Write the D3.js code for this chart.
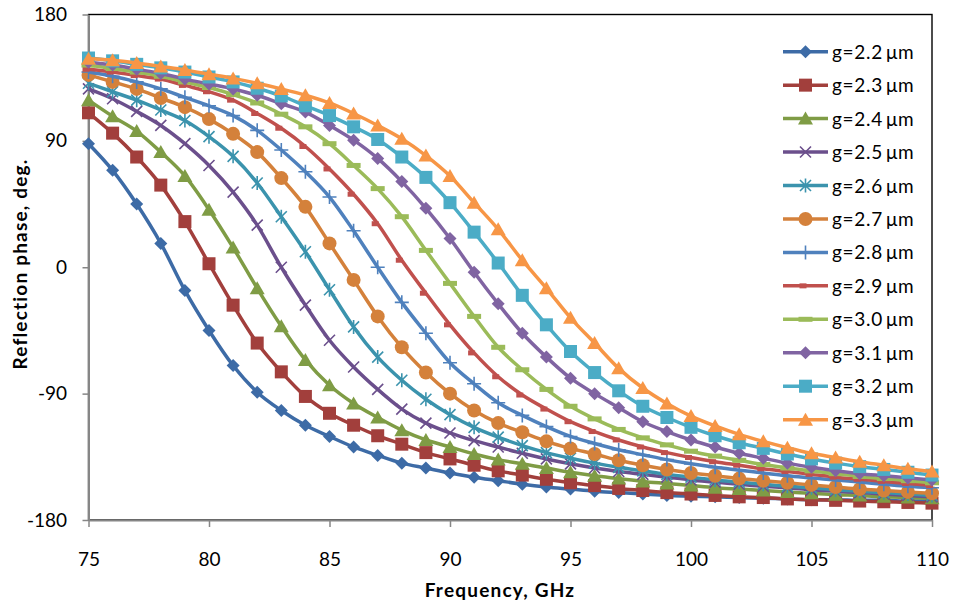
<!DOCTYPE html>
<html><head><meta charset="utf-8">
<script src="https://cdn.jsdelivr.net/npm/d3@7"></script>
<style>
html,body{margin:0;padding:0;background:#fff;}
svg{display:block;font-family:Lato,"Open Sans",sans-serif;}
</style></head>
<body><svg id="chart" width="959" height="607"></svg>
<script>
// ---- data ----
const freq = [75,76,77,78,79,80,81,82,83,84,85,86,87,88,89,90,91,92,93,94,95,96,97,98,99,100,101,102,103,104,105,106,107,108,109,110];
const seriesNames = ["g=2.2\u2009\u03bcm","g=2.3\u2009\u03bcm","g=2.4\u2009\u03bcm","g=2.5\u2009\u03bcm","g=2.6\u2009\u03bcm","g=2.7\u2009\u03bcm","g=2.8\u2009\u03bcm","g=2.9\u2009\u03bcm","g=3.0\u2009\u03bcm","g=3.1\u2009\u03bcm","g=3.2\u2009\u03bcm","g=3.3\u2009\u03bcm"];
const g22 = [88,69,45,17,-16.5,-45,-70,-89,-102,-112.5,-120.5,-128,-134,-139.5,-143,-146.5,-149.5,-152,-154.5,-156.5,-158,-159.5,-160.5,-161.5,-162.5,-163,-163.5,-164,-164.5,-165,-165.5,-165.5,-166,-166,-166.5,-166.5];
const g23 = [110,95.5,78.5,58.5,32.5,2.5,-27,-54,-74.5,-92,-104,-112.5,-120,-126,-132,-136.5,-141,-145,-148,-151,-153.5,-155.5,-157.5,-159,-160.5,-161.5,-162.5,-163.5,-164,-165,-165.5,-166,-166.5,-167,-167.5,-168];
const g24 = [119,107.5,97,82,65,41,14,-15,-42,-66,-84,-97,-107,-116,-123,-128,-133,-137,-140,-143,-146,-148.5,-150.5,-152.5,-154,-155.5,-157,-158,-159,-160,-161,-162,-162.5,-163.5,-164,-164.5];
const g25 = [127,120,111,101,88,72.5,53.5,30,0,-27,-52,-71,-87,-101,-111,-118,-123.5,-128,-132.5,-136.5,-140,-143,-145.5,-147.5,-149.5,-151.5,-153,-154.5,-156,-157,-158.5,-159.5,-160.5,-161.5,-162.5,-163.5];
const g26 = [131,125,119,112,104.5,93,79,60,36,11,-16,-42.5,-64,-80.5,-94,-105,-114,-121,-127,-132,-136,-139.5,-142.5,-145,-147.5,-149.5,-151.5,-153,-154.5,-156,-157,-158.5,-159.5,-160.5,-161.5,-162.5];
const g27 = [137,132,127,120.5,114,105.5,95,82,63.5,43,17,-9,-35,-57,-75,-90,-102,-111,-117.5,-124,-129,-133,-137.5,-141,-144,-146.5,-148.5,-150.5,-152,-153.5,-155,-156.5,-158,-159,-160,-161];
const g28 = [139,136,132,127,121,115,108,97.5,83.5,68,50,26,0,-25,-47,-68,-83,-96.5,-105.5,-113.5,-120.5,-125.5,-130,-133.5,-137,-140,-142.5,-144.5,-146.5,-148.5,-150,-151.5,-153,-154.5,-156,-157];
const g29 = [141,139,136.5,134,129.5,125,119,109.5,99,86,70,52,31,5,-18.5,-41,-61,-78,-91,-101,-110,-117,-123,-128,-132,-135.5,-138.5,-141,-143.5,-145.5,-147.5,-149.5,-151,-152.5,-154,-155.5];
const g30 = [144,141.5,139,136,132,128,123,117,109,100,88,72.5,56,36,12,-11.5,-35,-57,-73,-87,-99,-108,-115.5,-121.5,-126.5,-131,-134.5,-137.5,-140.5,-143,-145,-147,-149,-150.5,-152,-153.5];
const g31 = [146,144,141,138,134,130.5,127,122.5,116.5,110.5,101,90.5,77.5,61,42,20.5,-3.5,-26,-47,-64,-79,-90,-100,-110,-117,-123,-128,-132.5,-136,-139.5,-142.5,-145,-147,-148.5,-150,-151.5];
const g32 = [149,147,144.5,142,139,135.5,132,127.5,122,115,108,100,91,78.5,64,46,25,3,-20,-41,-60,-75,-88,-99,-107,-114,-120,-125,-129,-133,-136.5,-139.5,-142,-144,-146,-148];
const g33 = [148.5,147.5,145.5,143,140.5,137.5,134.5,131,127,122.5,117,109.5,101,91.5,79.5,65,46,27,5,-15,-36,-54,-72,-86,-97,-106,-113,-119,-124,-128.5,-132.5,-135.5,-138.5,-141,-143.5,-145.5];
const xTicks = [75,80,85,90,95,100,105,110];
const yTicks = [-180,-90,0,90,180];

// ---- styles ----
const colors = ["#3d6ba6","#a23f3c","#7f9c45","#6b4f8c","#3b93ad","#d4813b","#4f81bd","#c0504d","#9bbb59","#8064a2","#4bacc6","#f79646"];
const markers = ["diamond","square","triangle","x","star","circle","plus","shortbar","longbar","diamond","square","triangle"];
const allSeries = [g22,g23,g24,g25,g26,g27,g28,g29,g30,g31,g32,g33];

const svg = d3.select("#chart");
const L=88.5, R=932, T=14.5, B=520;
const x = d3.scaleLinear().domain([75,110]).range([L,R]);
const y = d3.scaleLinear().domain([-180,180]).range([B,T]);

function drawMarker(g, type, color){
  if(type==="diamond") g.append("path").attr("d","M0,-6.5L6.5,0L0,6.5L-6.5,0Z").attr("fill",color);
  else if(type==="square") g.append("rect").attr("x",-6.5).attr("y",-6.5).attr("width",13).attr("height",13).attr("fill",color);
  else if(type==="triangle") g.append("path").attr("d","M0,-7L7.5,6L-7.5,6Z").attr("fill",color);
  else if(type==="circle") g.append("circle").attr("r",7).attr("fill",color);
  else if(type==="x") g.append("path").attr("d","M-5.5,-5.5L5.5,5.5M-5.5,5.5L5.5,-5.5").attr("stroke",color).attr("stroke-width",1.6).attr("fill","none");
  else if(type==="star") g.append("path").attr("d","M-5.5,-5.5L5.5,5.5M-5.5,5.5L5.5,-5.5M0,-7L0,7").attr("stroke",color).attr("stroke-width",1.6).attr("fill","none");
  else if(type==="plus") g.append("path").attr("d","M-7,0L7,0M0,-7L0,7").attr("stroke",color).attr("stroke-width",1.6).attr("fill","none");
  else if(type==="shortbar") g.append("rect").attr("x",-6).attr("y",-2.5).attr("width",7).attr("height",5).attr("fill",color);
  else if(type==="longbar") g.append("rect").attr("x",-7).attr("y",-2.5).attr("width",14).attr("height",5).attr("fill",color);
}

// plot border
svg.append("rect").attr("x",L).attr("y",T).attr("width",R-L).attr("height",B-T)
  .attr("fill","none").attr("stroke","#000").attr("stroke-width",1.4);

// axes
const fmt = d => String(d);
const xAxis = svg.append("g").attr("transform",`translate(0,${B})`)
  .call(d3.axisBottom(x).tickValues(xTicks).tickSizeInner(7).tickSizeOuter(0).tickPadding(26).tickFormat(fmt));
const yAxis = svg.append("g").attr("transform",`translate(${L},0)`)
  .call(d3.axisLeft(y).tickValues(yTicks).tickSizeInner(6).tickSizeOuter(0).tickPadding(15.5).tickFormat(fmt));
[xAxis,yAxis].forEach(a=>{
  a.select(".domain").attr("stroke","#868686").attr("stroke-width",2);
  a.selectAll(".tick line").attr("stroke","#868686").attr("stroke-width",1.5);
  a.selectAll(".tick text").attr("fill","#000").attr("font-size","19px").attr("font-family","Lato, sans-serif");
});

// series
const line = d3.line().x((d,i)=>x(freq[i])).y(d=>y(d)).curve(d3.curveMonotoneX);
allSeries.forEach((vals,si)=>{
  const g = svg.append("g");
  g.append("path").datum(vals).attr("d",line).attr("fill","none")
    .attr("stroke",colors[si]).attr("stroke-width",3.5).attr("stroke-linejoin","round");
  vals.forEach((v,i)=>{
    const m = g.append("g").attr("transform",`translate(${x(freq[i])},${y(v)})`);
    drawMarker(m, markers[si], colors[si]);
  });
});

// legend
const legend = svg.append("g");
seriesNames.forEach((name,i)=>{
  const cy = 51.7 + i*33.45;
  const lg = legend.append("g").attr("transform",`translate(0,${cy})`);
  lg.append("line").attr("x1",783).attr("x2",828).attr("y1",0).attr("y2",0)
    .attr("stroke",colors[i]).attr("stroke-width",3.5);
  const m = lg.append("g").attr("transform","translate(805.5,0)");
  drawMarker(m, markers[i], colors[i]);
  lg.append("text").attr("x",832).attr("y",7).attr("font-size","19px").attr("letter-spacing","0.7px").attr("fill","#000").text(name);
});

// axis titles
svg.append("text").attr("x",500).attr("y",597).attr("text-anchor","middle")
  .attr("font-size","19px").attr("font-weight","bold").attr("letter-spacing","1.2px").text("Frequency, GHz");
svg.append("text").attr("transform","translate(27,264) rotate(-90)").attr("text-anchor","middle")
  .attr("font-size","19px").attr("font-weight","bold").attr("letter-spacing","1.2px").text("Reflection phase, deg.");
</script></body></html>
